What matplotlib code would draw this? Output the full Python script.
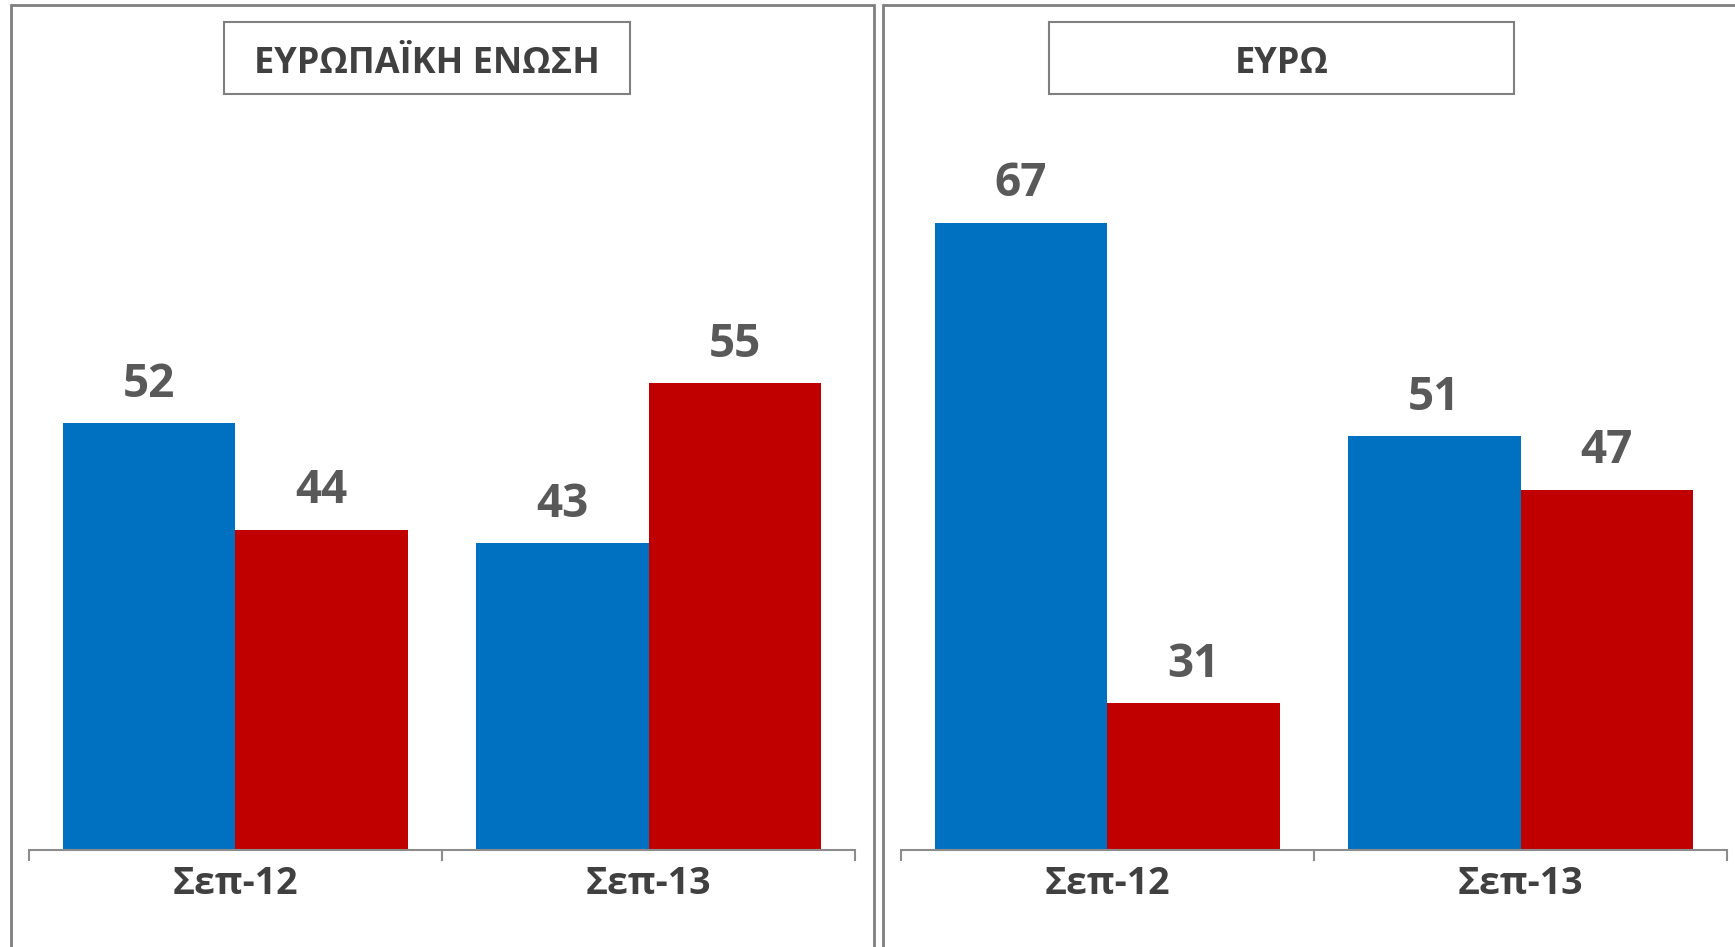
import matplotlib.pyplot as plt
from matplotlib.patches import Rectangle

# data
categories = ['Σεπ-12', 'Σεπ-13']
panel_titles = ['ΕΥΡΩΠΑΪΚΗ ΕΝΩΣΗ', 'ΕΥΡΩ']
eu_blue = [52, 43]
eu_red = [44, 55]
euro_blue = [67, 51]
euro_red = [31, 47]

BLUE = '#0070C0'
RED = '#C00000'
plt.rcParams['font.family'] = ['Open Sans', 'DejaVu Sans']

fig = plt.figure(figsize=(17.35, 9.47), dpi=100)

# panel frames (in pixels of the 1735x947 canvas)
W, H = 1735, 947
def px_rect(x0, y0, x1, y1, **kw):
    return Rectangle((x0 / W, 1 - y1 / H), (x1 - x0) / W, (y1 - y0) / H,
                     transform=fig.transFigure, fill=False, **kw)

fig.patches.append(px_rect(11, 5, 874, 1000, edgecolor='#7f7f7f', lw=2))
fig.patches.append(px_rect(883, 5, 1800, 1000, edgecolor='#7f7f7f', lw=2))
fig.patches.append(px_rect(224, 22, 630, 94, edgecolor='#7f7f7f', lw=1.5))
fig.patches.append(px_rect(1049, 22, 1514, 94, edgecolor='#7f7f7f', lw=1.5))

fig.text(427 / W, 1 - 73 / H, panel_titles[0], ha='center', va='baseline',
         fontsize=26, fontweight='bold', color='#404040')
fig.text(1281.5 / W, 1 - 73 / H, panel_titles[1], ha='center', va='baseline',
         fontsize=26, fontweight='bold', color='#404040')

panels = [(eu_blue, eu_red), (euro_blue, euro_red)]
lefts = [0.0166, 0.5191]
width = 0.418
x = list(range(len(categories)))

for left, (blue, red) in zip(lefts, panels):
    ax = fig.add_axes([left, 0.1026, 0.4764, 0.8454])
    b1 = ax.bar([i - width / 2 for i in x], blue, width, color=BLUE)
    b2 = ax.bar([i + width / 2 for i in x], red, width, color=RED)
    for bars in (b1, b2):
        ax.bar_label(bars, padding=11, fontsize=33, fontweight='bold', color='#595959')
    ax.set_ylim(20, 80)
    ax.set_xlim(-0.5, 1.5)
    for s in ('top', 'right', 'left'):
        ax.spines[s].set_visible(False)
    ax.spines['bottom'].set_color('#8c8c8c')
    ax.spines['bottom'].set_linewidth(1.5)
    ax.set_yticks([])
    ax.set_xticks(x)
    ax.set_xticklabels(categories, fontsize=27, fontweight='bold', color='#404040')
    ax.tick_params(axis='x', which='major', length=0, pad=11)
    ax.set_xticks([-0.5, 0.5, 1.5], minor=True)
    ax.tick_params(axis='x', which='minor', length=8, width=1.5, color='#8c8c8c')
    ax.patch.set_alpha(0)

fig.savefig('out.png', dpi=100)
